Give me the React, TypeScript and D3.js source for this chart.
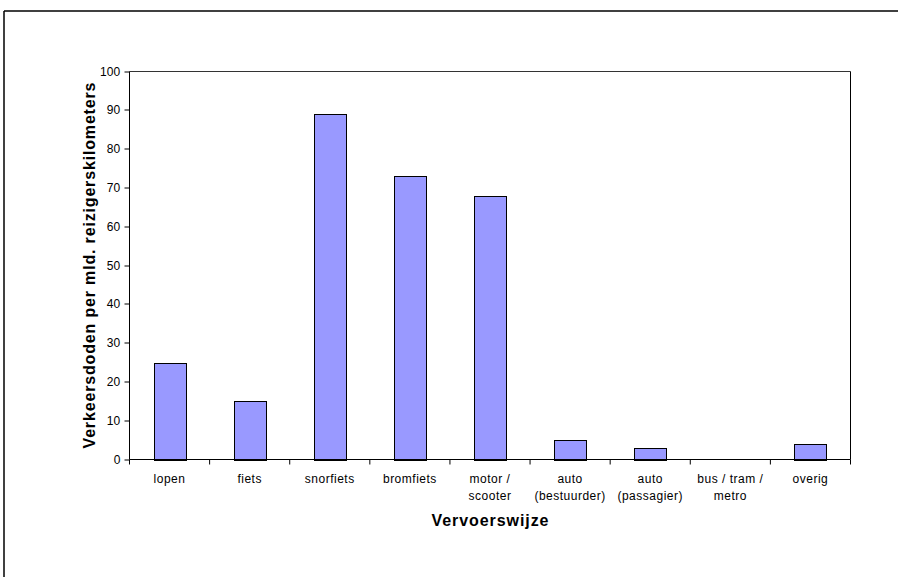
import React from "react";
import * as d3 from "d3";

const categories: string[][] = [
  ["lopen"],
  ["fiets"],
  ["snorfiets"],
  ["bromfiets"],
  ["motor /", "scooter"],
  ["auto", "(bestuurder)"],
  ["auto", "(passagier)"],
  ["bus / tram /", "metro"],
  ["overig"],
];
const values: number[] = [25, 15, 89, 73, 68, 5, 3, 0, 4];
const yTicks: number[] = [0, 10, 20, 30, 40, 50, 60, 70, 80, 90, 100];
const xTitle = "Vervoerswijze";
const yTitle = "Verkeersdoden per mld. reizigerskilometers";

const W = 898;
const H = 577;
const plot = { left: 129.5, right: 850.5, top: 71.5, bottom: 459.5 };
const FONT = "'Liberation Sans', Arial, sans-serif";

export default function App() {
  const keys = categories.map((c) => c.join(" "));
  const x = d3.scaleBand<string>().domain(keys).range([plot.left, plot.right]).paddingInner(0).paddingOuter(0);
  const y = d3.scaleLinear().domain([0, 100]).range([plot.bottom, plot.top]);
  const bw = x.bandwidth() * 0.4;
  const cx = (plot.left + plot.right) / 2;
  const cy = (plot.top + plot.bottom) / 2;

  return (
    <svg
      width={W}
      height={H}
      style={{ position: "absolute", left: 0, top: 0, display: "block", background: "#fff" }}
      fontFamily={FONT}
    >
      <rect x={0} y={0} width={W} height={H} fill="#fff" />
      {/* outer frame */}
      <line x1={4} y1={11} x2={W} y2={11} stroke="#000" strokeWidth={1.5} />
      <line x1={4} y1={11} x2={4} y2={H} stroke="#000" strokeWidth={1.5} />

      {/* plot border top & right */}
      <line x1={plot.left} y1={plot.top} x2={plot.right} y2={plot.top} stroke="#333" strokeWidth={1} />
      <line x1={plot.right} y1={plot.top} x2={plot.right} y2={plot.bottom} stroke="#000" strokeWidth={1} />

      {/* bars */}
      {values.map((v, i) => {
        const k = keys[i];
        const bx = (x(k) as number) + (x.bandwidth() - bw) / 2;
        if (v <= 0) return null;
        return (
          <rect
            key={k}
            x={Math.round(bx) + 0.5}
            y={Math.round(y(v)) + 0.5}
            width={Math.round(bw)}
            height={Math.round(y(0)) - Math.round(y(v))}
            fill="#9999FF"
            stroke="#000"
            strokeWidth={1}
          />
        );
      })}

      {/* y axis */}
      <line x1={plot.left} y1={plot.top} x2={plot.left} y2={plot.bottom} stroke="#000" strokeWidth={1} />
      {yTicks.map((t) => (
        <g key={t}>
          <line x1={plot.left - 5} x2={plot.left} y1={Math.round(y(t))} y2={Math.round(y(t))} stroke="#000" />
          <text
            x={plot.left - 9}
            y={y(t)}
            textAnchor="end"
            dominantBaseline="central"
            fontSize={12}
            letterSpacing={0.2}
            fill="#000"
          >
            {t}
          </text>
        </g>
      ))}

      {/* x axis */}
      <line x1={plot.left} y1={plot.bottom} x2={plot.right} y2={plot.bottom} stroke="#000" strokeWidth={1} />
      {keys.concat([""]).map((k, i) => {
        const px = i < keys.length ? (x(k) as number) : plot.right;
        return <line key={"t" + i} x1={px} x2={px} y1={plot.bottom} y2={plot.bottom + 5} stroke="#000" />;
      })}
      {categories.map((lines, i) => {
        const k = keys[i];
        const mx = (x(k) as number) + x.bandwidth() / 2;
        return (
          <text key={"l" + k} textAnchor="middle" fontSize={12} letterSpacing={0.5} fill="#000">
            {lines.map((ln, j) => (
              <tspan key={j} x={mx} y={483 + j * 16.5}>
                {ln}
              </tspan>
            ))}
          </text>
        );
      })}

      {/* axis titles */}
      <text
        x={cx}
        y={526}
        textAnchor="middle"
        fontSize={16}
        fontWeight="bold"
        textLength={117}
        lengthAdjust="spacing"
        fill="#000"
      >
        {xTitle}
      </text>
      <text
        transform={`translate(95,${cy}) rotate(-90)`}
        textAnchor="middle"
        fontSize={16}
        fontWeight="bold"
        textLength={366}
        lengthAdjust="spacing"
        fill="#000"
      >
        {yTitle}
      </text>
    </svg>
  );
}
